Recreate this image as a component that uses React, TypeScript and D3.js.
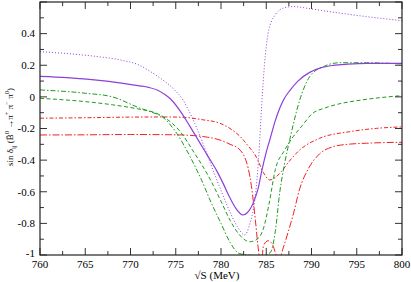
import React from "react";
import * as d3 from "d3";

// ---- data ----
const dottedE = [760, 763, 766, 769, 771, 772.2, 773.5, 774.7, 775.8, 776.8, 777.7, 778.5, 779.3, 780.2, 781, 781.8, 782.6, 783.2, 783.6, 783.9, 784.2, 784.5, 784.8, 785.2, 785.6, 786, 786.9, 788, 790, 792.5, 796, 800];
const dottedV = [0.286, 0.274, 0.257, 0.232, 0.2, 0.16, 0.11, 0.054, -0.02, -0.13, -0.25, -0.37, -0.49, -0.62, -0.73, -0.82, -0.873, -0.8, -0.7, -0.57, -0.35, -0.05, 0.2, 0.4, 0.48, 0.52, 0.562, 0.571, 0.556, 0.535, 0.508, 0.482];

const solidE = [760, 763, 766, 769, 771, 772, 773, 773.8, 774.4, 775.5, 776.5, 777.5, 778.5, 779.5, 780.3, 781, 781.7, 782.4, 783.1, 783.7, 784.1, 784.5, 785, 785.4, 786, 786.5, 787, 787.6, 788.5, 789.8, 791, 792.4, 794, 796.1, 800];
const solidV = [0.13, 0.122, 0.107, 0.087, 0.07, 0.06, 0.042, 0.015, -0.012, -0.09, -0.18, -0.275, -0.37, -0.465, -0.555, -0.64, -0.71, -0.747, -0.72, -0.65, -0.58, -0.47, -0.35, -0.27, -0.15, -0.07, -0.01, 0.04, 0.1, 0.155, 0.183, 0.199, 0.207, 0.212, 0.212];

const dashDotGE = [760, 765, 768, 771, 772.2, 773.6, 775.1, 776.6, 777.8, 779, 780, 781, 782, 783, 784, 785, 785.5, 786, 786.5, 787, 787.6, 788.7, 789.8, 791.3, 793.1, 796.1, 800];
const dashDotGV = [0.044, 0.023, 0.0, -0.07, -0.094, -0.13, -0.23, -0.38, -0.52, -0.68, -0.8, -0.92, -0.99, -1.0, -1.005, -1.0, -0.98, -0.85, -0.6, -0.43, -0.27, -0.02, 0.128, 0.191, 0.216, 0.216, 0.208];

const dashedGE = [760, 765, 768, 771, 772.7, 774, 775.5, 777, 778.6, 780, 781, 782, 783.2, 784, 784.7, 785.3, 786, 787, 788, 789, 790, 791.5, 793, 795.5, 800];
const dashedGV = [-0.009, -0.03, -0.05, -0.078, -0.1, -0.14, -0.22, -0.35, -0.5, -0.66, -0.78, -0.87, -0.916, -0.9, -0.83, -0.68, -0.46, -0.34, -0.25, -0.18, -0.11, -0.07, -0.045, -0.02, 0.008];

const redUpE = [760, 765, 770, 774, 776, 778, 779.9, 781, 782.1, 783, 783.9, 784.7, 785.4, 786, 786.7, 787.5, 788.7, 790.9, 794.25, 797.2, 800];
const redUpV = [-0.135, -0.132, -0.128, -0.127, -0.13, -0.145, -0.167, -0.2, -0.25, -0.31, -0.38, -0.48, -0.525, -0.51, -0.47, -0.41, -0.336, -0.262, -0.22, -0.199, -0.19];

const redLowE = [760, 765, 770, 775, 777, 778.5, 779.9, 781, 782, 782.6, 783, 783.4, 783.8, 784.1, 784.3, 784.45, 784.7, 785.2, 785.7, 786.1, 786.4, 786.9, 787.5, 788, 788.7, 789.6, 790.9, 792.4, 794, 796.1, 800];
const redLowV = [-0.241, -0.24, -0.238, -0.24, -0.245, -0.255, -0.273, -0.3, -0.33, -0.38, -0.45, -0.58, -0.78, -0.95, -1.03, -1.05, -0.94, -0.91, -0.935, -1.0, -1.03, -0.95, -0.84, -0.74, -0.58, -0.46, -0.36, -0.315, -0.3, -0.293, -0.287];

const xMajor = [760, 765, 770, 775, 780, 785, 790, 795, 800];
const xMinor = [762.5, 767.5, 772.5, 777.5, 782.5, 787.5, 792.5, 797.5];
const yMajor = [-1, -0.8, -0.6, -0.4, -0.2, 0, 0.2, 0.4, 0.6];
const yMinor = [-0.9, -0.7, -0.5, -0.3, -0.1, 0.1, 0.3, 0.5];
const yLabels = ["-1", "-0.8", "-0.6", "-0.4", "-0.2", "0", "0.2", "0.4", ""];

const PURPLE = "#8d3fd8";
const GREEN = "#1f9a1f";
const RED = "#f42020";

export default function App() {
  const W = 411, H = 282;
  const L = 40, R = 402, T = 2, B = 255;
  const x = d3.scaleLinear().domain([760, 800]).range([L, R]);
  const y = d3.scaleLinear().domain([-1, 0.6]).range([B, T]);
  const line = d3
    .line<[number, number]>()
    .x((d) => x(d[0]))
    .y((d) => y(d[1]))
    .curve(d3.curveMonotoneX);
  const zip = (e: number[], v: number[]) => e.map((d, i) => [d, v[i]] as [number, number]);

  const series = [
    { e: redLowE, v: redLowV, c: RED, dash: "7,2,1.5,2", w: 1 },
    { e: redUpE, v: redUpV, c: RED, dash: "4,2,1.5,2", w: 1 },
    { e: dashedGE, v: dashedGV, c: GREEN, dash: "4,2.5", w: 1 },
    { e: dashDotGE, v: dashDotGV, c: GREEN, dash: "5,2,1.5,2", w: 1 },
    { e: dottedE, v: dottedV, c: PURPLE, dash: "1,2", w: 1 },
    { e: solidE, v: solidV, c: PURPLE, dash: undefined, w: 1.2 },
  ];

  const font = "'Liberation Serif', 'Times New Roman', Tinos, 'Nimbus Roman', FreeSerif, 'DejaVu Serif', 'Noto Serif', serif";
  const tk = "#333";

  return (
    <svg width={W} height={H} style={{ position: "absolute", left: 0, top: 0, background: "#fff" }}>
      <defs>
        <clipPath id="plot">
          <rect x={L} y={T} width={R - L} height={B - T} />
        </clipPath>
      </defs>
      <rect x={0} y={0} width={W} height={H} fill="#fff" />
      <g clipPath="url(#plot)">
        {series.map((s, i) => (
          <path
            key={i}
            d={line(zip(s.e, s.v)) || ""}
            fill="none"
            stroke={s.c}
            strokeWidth={s.w}
            strokeDasharray={s.dash}
          />
        ))}
      </g>
      {/* ticks */}
      <g stroke={tk} strokeWidth={1}>
        {xMajor.map((t) => (
          <g key={"xM" + t}>
            <line x1={x(t)} x2={x(t)} y1={B} y2={B - 7} />
            <line x1={x(t)} x2={x(t)} y1={T} y2={T + 7} />
          </g>
        ))}
        {xMinor.map((t) => (
          <g key={"xm" + t}>
            <line x1={x(t)} x2={x(t)} y1={B} y2={B - 4} />
            <line x1={x(t)} x2={x(t)} y1={T} y2={T + 4} />
          </g>
        ))}
        {yMajor.map((t) => (
          <g key={"yM" + t}>
            <line x1={L} x2={L + 7} y1={y(t)} y2={y(t)} />
            <line x1={R} x2={R - 7} y1={y(t)} y2={y(t)} />
          </g>
        ))}
        {yMinor.map((t) => (
          <g key={"ym" + t}>
            <line x1={L} x2={L + 4} y1={y(t)} y2={y(t)} />
            <line x1={R} x2={R - 4} y1={y(t)} y2={y(t)} />
          </g>
        ))}
      </g>
      <rect x={L} y={T} width={R - L} height={B - T} fill="none" stroke="#222" strokeWidth={1.2} />
      {/* tick labels */}
      <g fontFamily={font} fontSize={11} fill="#000">
        {xMajor.map((t) => (
          <text key={"xl" + t} x={x(t)} y={B + 13} textAnchor="middle">
            {String(t)}
          </text>
        ))}
        {yMajor.map((t, i) =>
          yLabels[i] ? (
            <text key={"yl" + t} x={L - 5} y={y(t) + (t === -1 ? 1.5 : 3.8)} textAnchor="end">
              {yLabels[i]}
            </text>
          ) : null
        )}
      </g>
      <text x={217} y={279} fontFamily={font} fontSize={11} textAnchor="middle">
        √S (MeV)
      </text>
      <text
        transform="translate(13,127) rotate(-90)"
        fontFamily={font}
        fontSize={9}
        textAnchor="middle"
      >
        sin δ
        <tspan fontSize={6.5} dy={2.5}>ij</tspan>
        <tspan dy={-2.5}> (B̄</tspan>
        <tspan fontSize={6.5} dy={-4}>0</tspan>
        <tspan dy={4}> →π</tspan>
        <tspan fontSize={6.5} dy={-4}>+</tspan>
        <tspan dy={4}> π</tspan>
        <tspan fontSize={6.5} dy={-4}>−</tspan>
        <tspan dy={4}> π</tspan>
        <tspan fontSize={6.5} dy={-4}>0</tspan>
        <tspan dy={4}>)</tspan>
      </text>
    </svg>
  );
}
